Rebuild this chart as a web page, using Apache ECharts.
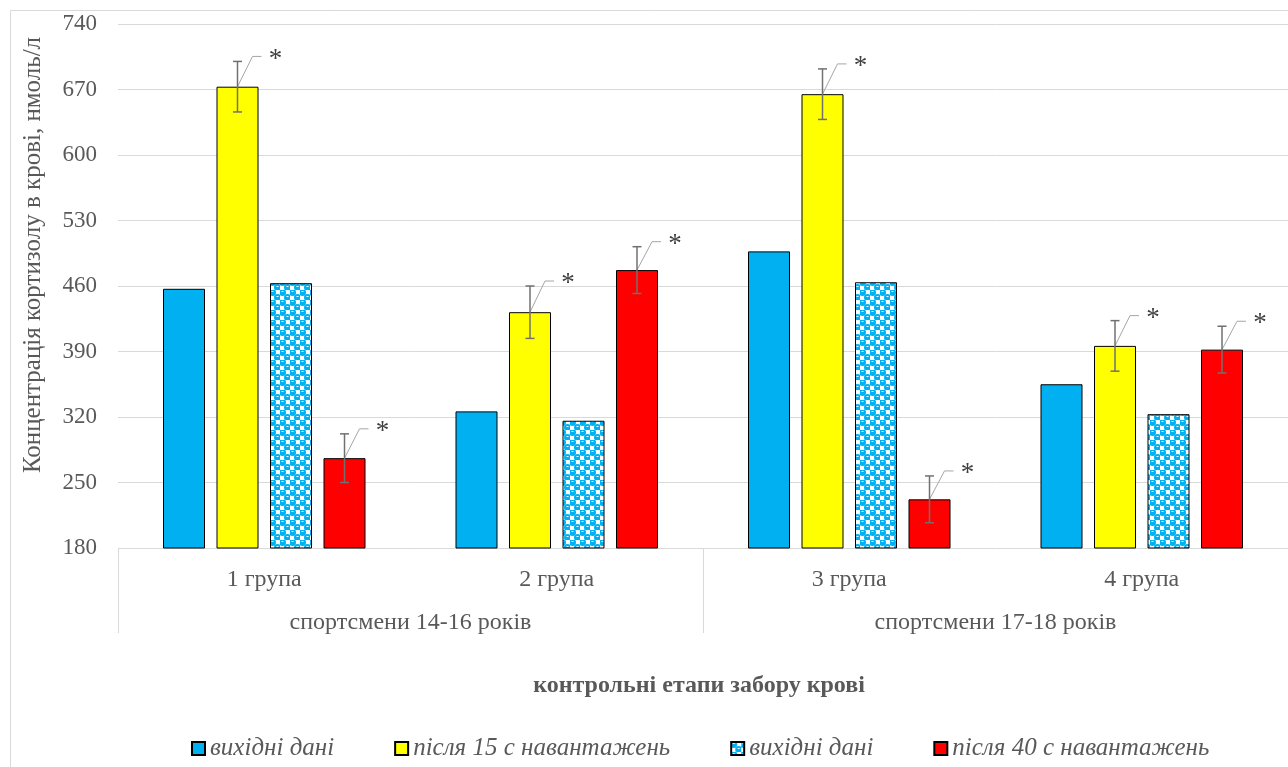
<!DOCTYPE html>
<html>
<head>
<meta charset="utf-8">
<script src="https://cdn.jsdelivr.net/npm/echarts@6/dist/echarts.min.js"></script>
<style>html,body{margin:0;padding:0;background:#fff;}#c{width:1288px;height:767px;}</style>
</head>
<body>
<div id="c"></div>
<script>
// ---- data ----
const categories = ['1 група', '2 група', '3 група', '4 група'];
const ageGroups = ['спортсмени 14-16 років', 'спортсмени 17-18 років'];
const baseline1 = [457, 326, 497, 355];
const after15 = [673, 432, 665, 396];
const after15Err = [27, 28, 27, 27];
const baseline2 = [463, 316, 464, 323];
const after40 = [276, 477, 232, 392];
const after40Err = [26, 25, 25, 25];
const seriesNames = ['вихідні дані', 'після 15 с навантажень', 'вихідні дані\u200b', 'після 40 с навантажень'];
const yMin = 180, yMax = 740, yStep = 70;
const axisTitle = 'Концентрація кортизолу в крові, нмоль/л';
const xTitle = 'контрольні етапи забору крові';

// ---- styling ----
const FONT = '"Liberation Serif", "Times New Roman", serif';
const TXT = '#595959';
const GRID = '#d9d9d9';
const BAR_W = 42, BAR_GAP = 11.5;

// pattern for second baseline series
const pc = document.createElement('canvas');
pc.width = 10; pc.height = 10;
const g = pc.getContext('2d');
g.fillStyle = '#ffffff'; g.fillRect(0, 0, 10, 10);
g.fillStyle = '#00b0f0';
g.beginPath(); g.arc(2.5, 2.5, 3.5, 0, Math.PI * 2); g.fill();
g.beginPath(); g.arc(7.5, 7.5, 3.5, 0, Math.PI * 2); g.fill();
g.fillStyle = '#ffffff';
g.fillRect(1.5, 1, 2, 1); g.fillRect(6.5, 6, 2, 1);
const patternColor = { image: pc, repeat: 'repeat' };

const chart = echarts.init(document.getElementById('c'), null, { renderer: 'canvas' });

function errSeries(values, errs, offsetIdx) {
  return {
    type: 'custom',
    xAxisIndex: 0, yAxisIndex: 0,
    silent: true, z: 5,
    data: values.map((v, i) => [i, v, errs[i]]),
    encode: { x: 0, y: 1 },
    renderItem: function (params, api) {
      const i = api.value(0), v = api.value(1), e = api.value(2);
      const off = (offsetIdx - 1.5) * (BAR_W + BAR_GAP);
      const top = api.coord([i, v]);
      const hi = api.coord([i, v + e]);
      const lo = api.coord([i, v - e]);
      const x = top[0] + off;
      const cap = 4.5;
      const ex = x + 15, ey = hi[1] - 5;
      return {
        type: 'group',
        children: [
          { type: 'polyline', shape: { points: [[x, top[1]], [ex, ey], [ex + 9, ey]] },
            style: { stroke: '#a6a6a6', lineWidth: 1, fill: null } },
          { type: 'line', shape: { x1: x, y1: hi[1], x2: x, y2: lo[1] }, style: { stroke: '#707070', lineWidth: 1.5 } },
          { type: 'line', shape: { x1: x - cap, y1: hi[1], x2: x + cap, y2: hi[1] }, style: { stroke: '#707070', lineWidth: 1.5 } },
          { type: 'line', shape: { x1: x - cap, y1: lo[1], x2: x + cap, y2: lo[1] }, style: { stroke: '#707070', lineWidth: 1.5 } },
          { type: 'text', style: { text: '*', x: ex + 23, y: ey + 3, fill: '#404040', font: '27px ' + FONT, align: 'center', verticalAlign: 'middle' } }
        ]
      };
    }
  };
}

const barBase = { type: 'bar', barWidth: BAR_W, barGap: (BAR_GAP / BAR_W * 100) + '%', xAxisIndex: 0, yAxisIndex: 0 };
const option = {
  animation: false,
  backgroundColor: '#ffffff',
  grid: { left: 118, right: 0, top: 24, bottom: 219, containLabel: false },
  xAxis: [
    { type: 'category', data: categories, position: 'bottom',
      axisLine: { show: false }, axisTick: { show: false }, splitLine: { show: false },
      axisLabel: { margin: 20, color: TXT, fontFamily: FONT, fontSize: 24 } },
    { type: 'category', data: ageGroups, position: 'bottom',
      axisLine: { show: false },
      axisTick: { show: true, length: 85, lineStyle: { color: GRID, width: 1 } },
      splitLine: { show: false },
      axisLabel: { margin: 63, color: TXT, fontFamily: FONT, fontSize: 24 } }
  ],
  yAxis: {
    type: 'value', min: yMin, max: yMax, interval: yStep,
    axisLine: { show: false }, axisTick: { show: false },
    splitLine: { lineStyle: { color: GRID, width: 1 } },
    axisLabel: { margin: 21, color: TXT, fontFamily: FONT, fontSize: 23 }
  },
  legend: {
    data: seriesNames,
    bottom: 1, left: 186,
    itemWidth: 13, itemHeight: 13, itemGap: 60, icon: 'rect',
    formatter: n => n.replace('\u200b', ''),
    textStyle: { color: TXT, fontFamily: FONT, fontSize: 25, fontStyle: 'italic' }
  },
  graphic: [
    { type: 'rect', shape: { x: 10.5, y: 10.5, width: 1300, height: 800 }, style: { fill: null, stroke: GRID, lineWidth: 1 }, silent: true, z: -1 },
    { type: 'text', x: 33, y: 255, rotation: Math.PI / 2,
      style: { text: axisTitle, fill: TXT, font: '25px ' + FONT, align: 'center', verticalAlign: 'middle' } },
    { type: 'text', x: 699, y: 686,
      style: { text: xTitle, fill: TXT, font: 'bold 24px ' + FONT, align: 'center', verticalAlign: 'middle' } }
  ],
  series: [
    Object.assign({}, barBase, { name: seriesNames[0], data: baseline1, itemStyle: { color: '#00b0f0', borderColor: '#000', borderWidth: 1 } }),
    Object.assign({}, barBase, { name: seriesNames[1], data: after15, itemStyle: { color: '#ffff00', borderColor: '#000', borderWidth: 1 } }),
    Object.assign({}, barBase, { name: seriesNames[2], data: baseline2, itemStyle: { color: patternColor, borderColor: '#000', borderWidth: 1 } }),
    Object.assign({}, barBase, { name: seriesNames[3], data: after40, itemStyle: { color: '#ff0000', borderColor: '#000', borderWidth: 1 } }),
    errSeries(after15, after15Err, 1),
    errSeries(after40, after40Err, 3)
  ]
};
chart.setOption(option);
</script>
</body>
</html>
